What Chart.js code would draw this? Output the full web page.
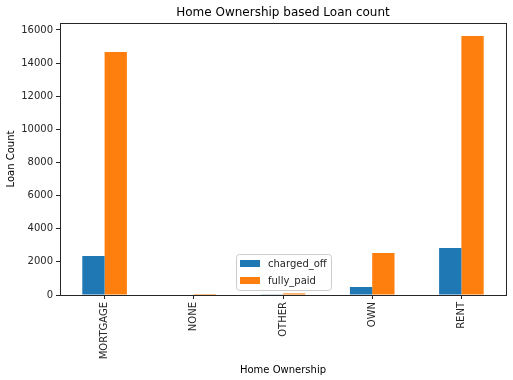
<!DOCTYPE html>
<html>
<head>
<meta charset="utf-8">
<script src="https://cdn.jsdelivr.net/npm/chart.js@4/dist/chart.umd.min.js"></script>
<style>
  body { margin: 0; background: #fff; }
  canvas { display: block; }
</style>
</head>
<body>
<canvas id="myChart" width="513" height="380"></canvas>
<script>
// data
let homeOwnership = ["MORTGAGE", "NONE", "OTHER", "OWN", "RENT"];
let chargedOff = [2355, 0, 18, 483, 2838];
let fullyPaid = [14672, 1, 96, 2536, 15638];
let seriesNames = ["charged_off", "fully_paid"];
let seriesColors = ["#1f77b4", "#ff7f0e"];
let yTicks = [0, 2000, 4000, 6000, 8000, 10000, 12000, 14000, 16000];
let yMax = 16420;

let fontFamily = "'DejaVu Sans', sans-serif";
let textColor = "#262626";

// box around the plot, title over the plot and the little legend
const framePlugin = {
  id: "frame",
  afterDraw(chart) {
    let ctx = chart.ctx;
    let area = chart.chartArea;
    ctx.save();
    ctx.strokeStyle = "#262626";
    ctx.lineWidth = 1;
    ctx.strokeRect(area.left + 0.5, area.top + 0.5, area.right - area.left, area.bottom - area.top);

    // title
    ctx.fillStyle = "#000";
    ctx.font = "12px " + fontFamily;
    ctx.textAlign = "center";
    ctx.textBaseline = "middle";
    ctx.fillText("Home Ownership based Loan count", (area.left + area.right) / 2, 13);

    // legend
    let lx = 236, ly = 254, lw = 95, lh = 36;
    ctx.fillStyle = "rgba(255,255,255,0.8)";
    ctx.strokeStyle = "#cccccc";
    ctx.beginPath();
    ctx.roundRect(lx + 0.5, ly + 0.5, lw, lh, 3);
    ctx.fill();
    ctx.stroke();
    ctx.font = "10px " + fontFamily;
    ctx.textAlign = "left";
    for (let i = 0; i < seriesNames.length; i++) {
      let rowY = ly + 10 + i * 17;
      ctx.fillStyle = seriesColors[i];
      ctx.fillRect(lx + 4, rowY - 4, 20, 7);
      ctx.fillStyle = textColor;
      ctx.fillText(seriesNames[i], lx + 32, rowY);
    }
    ctx.restore();
  },
};

const data = {
  labels: homeOwnership,
  datasets: [
    {
      label: seriesNames[0],
      backgroundColor: seriesColors[0],
      data: chargedOff,
    },
    {
      label: seriesNames[1],
      backgroundColor: seriesColors[1],
      data: fullyPaid,
    },
  ],
};

const config = {
  type: "bar",
  data: data,
  options: {
    responsive: false,
    animation: false,
    layout: { padding: { top: 23, right: 7, bottom: 4, left: 0 } },
    datasets: {
      bar: { categoryPercentage: 0.5, barPercentage: 1.0 },
    },
    plugins: {
      legend: { display: false },
      title: { display: false },
      tooltip: { enabled: false },
    },
    scales: {
      x: {
        grid: { display: true, offset: false, drawOnChartArea: false, tickLength: 4, color: "#262626" },
        border: { display: false },
        ticks: {
          color: textColor,
          font: { family: fontFamily, size: 10 },
          minRotation: 90,
          maxRotation: 90,
          padding: 3,
        },
        title: {
          display: true,
          text: "Home Ownership",
          color: "#000",
          font: { family: fontFamily, size: 10 },
          padding: { top: 0, bottom: 0 },
        },
        afterFit(scale) {
          scale.height = 81;
        },
      },
      y: {
        min: 0,
        max: yMax,
        grid: { display: true, drawOnChartArea: false, tickLength: 4, color: "#262626" },
        border: { display: false },
        ticks: {
          autoSkip: false,
          color: textColor,
          font: { family: fontFamily, size: 10 },
          padding: 3,
          callback: (value) => String(value),
        },
        title: {
          display: true,
          text: "Loan Count",
          color: "#000",
          font: { family: fontFamily, size: 10 },
          padding: { top: 5, bottom: 0 },
        },
        afterBuildTicks(scale) {
          scale.ticks = yTicks.map((v) => ({ value: v }));
        },
        afterFit(scale) {
          scale.width = 60;
        },
      },
    },
  },
  plugins: [framePlugin],
};

let canvasChart = document.getElementById("myChart").getContext("2d");
const myChart = new Chart(canvasChart, config);
</script>
</body>
</html>
